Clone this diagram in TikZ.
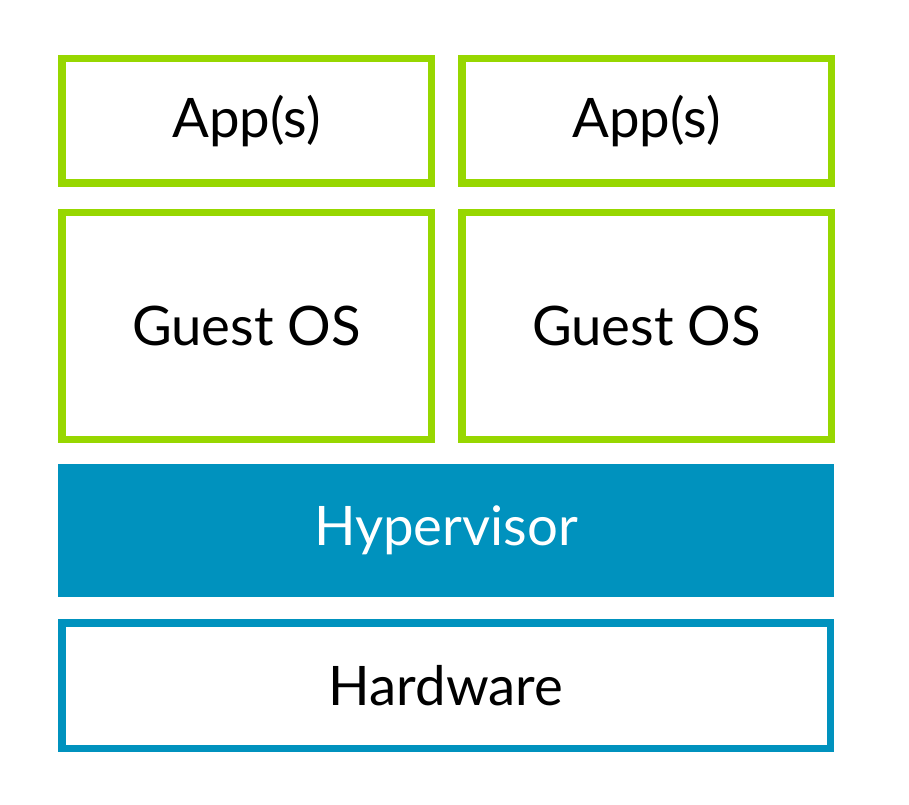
\documentclass[tikz,border=0pt]{standalone}
\usepackage{fontspec}
\setmainfont{Lato}
\usepackage{xcolor}
\usepackage{tikz}
\definecolor{limeGreen}{HTML}{97D700}
\definecolor{hyperBlue}{HTML}{0092BE}
\usetikzlibrary{positioning}
\tikzstyle{layer} = [rectangle, draw, line width = 7.5pt, text centered, font = \fontsize{54.5}{60}\selectfont]
\tikzstyle{blockApp} = [layer, draw = limeGreen, minimum width = 369.5pt, minimum height = 124.5pt]
\tikzstyle{blockGuest} = [layer, draw = limeGreen, minimum width = 369.5pt, minimum height = 226.5pt]
\tikzstyle{blockHyper} = [layer, draw = hyperBlue, fill = hyperBlue, text = white, minimum width = 768.5pt, minimum height = 125.5pt]
\tikzstyle{blockHard} = [layer, draw = hyperBlue, minimum width = 768.5pt, minimum height = 125.5pt]
\begin{document}
\begin{tikzpicture}[x = 1pt, y = 1pt, node distance = 22pt]
        \useasboundingbox (0,0) rectangle (909,804);
        \node(Hard) [blockHard] at (446,118.5) {Hardware};
        \node(Hyper) [blockHyper, above = of Hard] {Hypervisor};
        \node(GuestL) [blockGuest, above right = 21pt and 0pt of Hyper.north west] {Guest OS};
        \node(GuestR) [blockGuest, right = 23pt of GuestL] {Guest OS};
        \node(AppL) [blockApp, above = of GuestL] {App(s)};
        \node(AppR) [blockApp, above = of GuestR] {App(s)};
    \end{tikzpicture}
\end{document}
